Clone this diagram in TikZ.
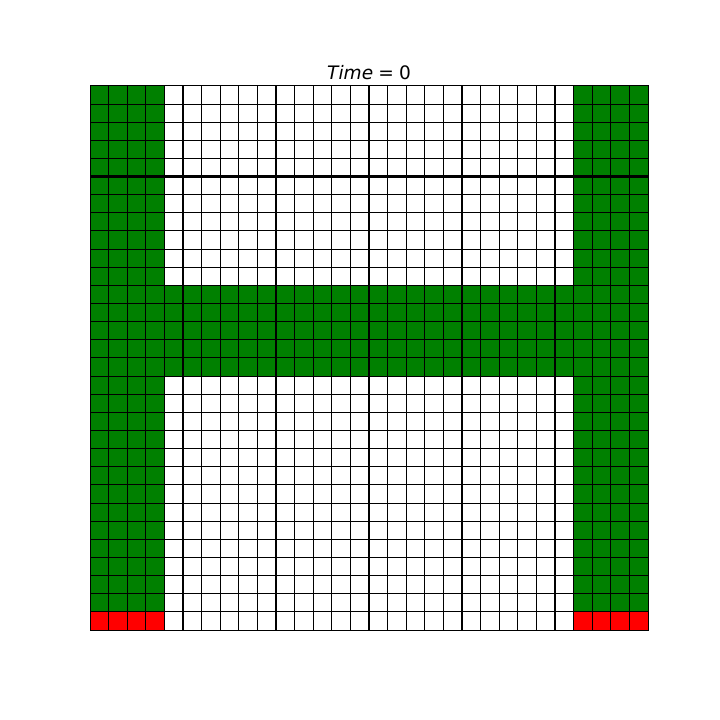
\documentclass[tikz,border=0pt]{standalone}
\usepackage{fontspec}
\setmainfont{DejaVu Sans}
\usetikzlibrary{positioning}
\definecolor{cellgreen}{HTML}{008000}
\definecolor{cellred}{HTML}{FF0000}

\begin{document}
\begin{tikzpicture}[
    x=0.025cm, y=0.025cm,
    every node/.style={font=\fontsize{13.2}{16}\selectfont},
    thin grid/.style={draw=black, line width=0.7pt},
    thick grid/.style={draw=black, line width=1.5pt}
]
\useasboundingbox (0,0) rectangle (720,720);
\begin{scope}[shift={(90,90)}, x=0.465cm, y=0.45333cm]
    % filled cells
    \fill[cellgreen] (0,1) rectangle (4,30);
    \fill[cellgreen] (26,1) rectangle (30,30);
    \fill[cellgreen] (4,14) rectangle (26,19);
    \fill[cellred] (0,0) rectangle (4,1);
    \fill[cellred] (26,0) rectangle (30,1);
    % grid lines
    \foreach \i in {0,...,30} {
        \draw[thin grid] (\i,0) -- (\i,30);
        \draw[thin grid] (0,\i) -- (30,\i);
    }
    \foreach \i in {5,10,...,25}
        \draw[thick grid] (\i,0) -- (\i,30);
    \draw[thick grid] (0,25) -- (30,25);
    \draw[thin grid] (0,0) rectangle (30,30);
    \coordinate (gridtop) at (15,30);
\end{scope}
\node (title) at ([yshift=9.5pt]gridtop) {\textit{Time}\;=\;0};
\end{tikzpicture}
\end{document}
